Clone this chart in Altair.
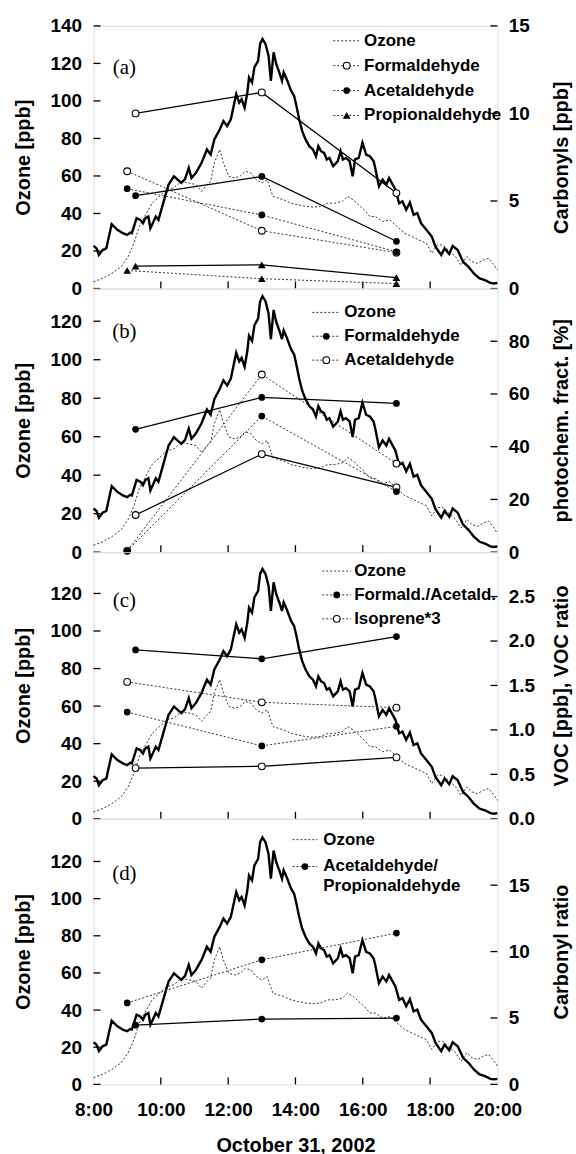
import altair as alt
import pandas as pd

# ---------------- data ----------------
# Ozone, site with the bold trace (ppb)
OZONE_BOLD_TIME = [8.00, 8.09, 8.16, 8.27, 8.38, 8.54, 8.71, 8.87, 9.00, 9.09,
                   9.14, 9.28, 9.39, 9.47, 9.54, 9.63, 9.69, 9.76, 9.85, 9.93,
                   10.07, 10.23, 10.39, 10.50, 10.61, 10.72, 10.83, 10.91, 11.04, 11.21,
                   11.37, 11.48, 11.59, 11.75, 11.86, 11.97, 12.08, 12.24, 12.33, 12.40,
                   12.49, 12.57, 12.62, 12.71, 12.78, 12.89, 12.95, 13.02, 13.11, 13.20,
                   13.27, 13.35, 13.43, 13.52, 13.60, 13.65, 13.74, 13.87, 13.96, 14.03,
                   14.11, 14.20, 14.30, 14.41, 14.52, 14.61, 14.68, 14.76, 14.85, 14.93,
                   15.01, 15.12, 15.26, 15.34, 15.41, 15.50, 15.61, 15.70, 15.77, 15.88,
                   15.99, 16.10, 16.21, 16.32, 16.37, 16.48, 16.59, 16.70, 16.78, 16.86,
                   16.97, 17.08, 17.18, 17.29, 17.40, 17.51, 17.62, 17.73, 17.89, 18.05,
                   18.16, 18.33, 18.43, 18.57, 18.67, 18.82, 18.98, 19.14, 19.30, 19.47,
                   19.63, 19.79, 19.90, 20.00]
OZONE_BOLD = [22.7, 21.4, 17.9, 20.5, 21.4, 34.3, 31.3, 29.5, 28.6, 29.8,
              29.5, 37.5, 36.6, 34.8, 37.5, 38.4, 32.1, 34.8, 38.4, 36.6,
              45.5, 55.4, 59.8, 58.0, 56.3, 58.4, 64.3, 58.9, 61.6, 67.0,
              74.1, 71.4, 79.5, 84.8, 89.3, 86.6, 90.2, 103.6, 99.1, 100.9,
              96.4, 104.5, 112.5, 109.8, 117.9, 121.4, 130.4, 133.0, 130.4, 124.1,
              110.7, 125.9, 119.6, 115.2, 110.7, 115.2, 111.6, 105.4, 102.7, 97.3,
              90.2, 83.9, 79.5, 75.9, 74.1, 70.5, 75.9, 73.2, 72.3, 68.8,
              69.6, 65.2, 67.9, 73.2, 68.8, 69.6, 67.9, 59.8, 68.8, 69.6,
              77.7, 71.4, 70.5, 67.9, 64.3, 54.5, 58.0, 55.4, 58.9, 56.3,
              52.7, 45.5, 46.4, 42.0, 45.9, 39.3, 40.2, 34.8, 31.3, 27.7,
              22.3, 17.9, 21.4, 18.4, 22.7, 20.5, 14.3, 11.6, 8.0, 5.4,
              4.5, 3.0, 2.7, 3.0]

# Ozone, site with the dotted trace (ppb)
OZONE_DOT_TIME = [8.00, 8.27, 8.54, 8.82, 9.03, 9.20, 9.36, 9.52, 9.74, 9.96,
                  10.17, 10.39, 10.61, 10.83, 11.04, 11.21, 11.37, 11.48, 11.59, 11.75,
                  11.86, 12.02, 12.19, 12.35, 12.51, 12.67, 12.84, 13.00, 13.16, 13.33,
                  13.49, 13.65, 13.87, 14.09, 14.30, 14.52, 14.74, 14.96, 15.17, 15.39,
                  15.55, 15.72, 15.88, 16.04, 16.21, 16.37, 16.59, 16.80, 17.02, 17.24,
                  17.46, 17.67, 17.89, 18.05, 18.22, 18.38, 18.54, 18.76, 18.92, 19.09,
                  19.25, 19.41, 19.58, 19.74, 19.90, 20.00]
OZONE_DOT = [3.6, 5.4, 8.0, 11.6, 17.0, 24.1, 33.0, 38.4, 45.5, 49.1,
             52.7, 53.6, 57.1, 56.3, 55.4, 51.8, 55.4, 57.1, 67.0, 74.1,
             67.0, 59.8, 58.9, 59.8, 62.5, 61.6, 58.0, 56.3, 58.0, 49.1,
             48.2, 47.3, 45.5, 44.6, 43.8, 43.4, 43.8, 45.5, 45.5, 46.4,
             49.1, 47.3, 44.6, 42.0, 38.4, 38.4, 35.7, 36.6, 33.0, 29.5,
             27.7, 25.9, 24.1, 18.8, 23.2, 23.2, 20.5, 17.0, 12.5, 17.0,
             14.3, 13.4, 15.2, 16.1, 12.5, 9.8]

# Sampling times of the carbonyl / VOC cartridges
SAMPLE_TIME_BOLD = [9.25, 13.0, 17.0]
SAMPLE_TIME_DOT = [9.0, 13.0, 17.0]

# (a) carbonyls [ppb]
A_FORM_BOLD = [10.0, 11.2, 5.45]
A_ACET_BOLD = [5.3, 6.4, 2.7]
A_PROP_BOLD = [1.28, 1.35, 0.62]
A_FORM_DOT = [6.7, 3.3, 2.05]
A_ACET_DOT = [5.7, 4.2, 2.1]
A_PROP_DOT = [1.03, 0.56, 0.28]

# (b) photochemical fraction [%]
B_FORM_BOLD = [46.6, 58.7, 56.4]
B_ACET_BOLD = [14.1, 37.2, 24.6]
B_FORM_DOT = [0.5, 51.6, 23.0]
B_ACET_DOT = [0.5, 67.4, 33.6]

# (c) formaldehyde/acetaldehyde ratio and isoprene*3 [ppb]
C_RATIO_BOLD = [1.90, 1.80, 2.05]
C_ISOP_BOLD = [0.57, 0.59, 0.69]
C_RATIO_DOT = [1.20, 0.82, 1.04]
C_ISOP_DOT = [1.54, 1.31, 1.25]

# (d) acetaldehyde/propionaldehyde ratio
D_RATIO_BOLD = [4.46, 4.92, 4.99]
D_RATIO_DOT = [6.13, 9.38, 11.39]

HOUR_TICKS = [8, 10, 12, 14, 16, 18, 20]
OZONE_TICKS_A = [0, 20, 40, 60, 80, 100, 120, 140]
OZONE_TICKS = [0, 20, 40, 60, 80, 100, 120]

# ---------------- layout / style ----------------
W = 406
FONT = "Liberation Sans"
SERIF = "Liberation Serif"
TICK_LEN = 7
MARK_SIZE = 46

ozone_df = pd.concat([
    pd.DataFrame({"t": OZONE_BOLD_TIME, "ppb": OZONE_BOLD, "site": "bold"}),
    pd.DataFrame({"t": OZONE_DOT_TIME, "ppb": OZONE_DOT, "site": "dot"}),
])


def series(values, name, site, marker):
    times = SAMPLE_TIME_BOLD if site == "bold" else SAMPLE_TIME_DOT
    return pd.DataFrame({"t": times, "v": values, "name": name,
                         "site": site, "marker": marker})


def x_enc(show):
    if show:
        axis = alt.Axis(values=HOUR_TICKS, labelExpr="datum.value + ':00'",
                        title="October 31, 2002", ticks=False, tickSize=0,
                        domain=False, grid=False, labelPadding=16,
                        labelFlush=False, labelOverlap=False,
                        labelFontSize=19, labelFont=FONT, labelFontWeight="bold",
                        titleFontSize=20, titleFont=FONT, titleFontWeight="bold",
                        titleY=61, titleBaseline="middle")
    else:
        axis = None
    return alt.X("t:Q", scale=alt.Scale(domain=[8, 20], nice=False, zero=False),
                 axis=axis)


def panel(h, lmax, lticks, rmax, rticks, rfmt, rtitle, frames, legend, legend_x,
          label, label_y, show_x):
    X = x_enc(show_x)
    YL = alt.Y("ppb:Q", scale=alt.Scale(domain=[0, lmax], nice=False),
               axis=alt.Axis(values=lticks, title="Ozone [ppb]", ticks=False,
                             tickSize=0, domain=False, grid=False,
                             labelPadding=12, labelOverlap=False,
                             labelFontSize=19, labelFont=FONT,
                             labelFontWeight="bold",
                             titleFontSize=20, titleFont=FONT,
                             titleFontWeight="bold", titleAngle=270,
                             titleX=-70, titleY=h / 2, titleAlign="center",
                             titleBaseline="middle"))
    YR = alt.Y("v:Q", scale=alt.Scale(domain=[0, rmax], nice=False),
               axis=alt.Axis(values=rticks, format=rfmt, title=rtitle,
                             orient="right", ticks=False, tickSize=0,
                             domain=False, grid=False, labelPadding=11,
                             labelOverlap=False, labelFontSize=19,
                             labelFont=FONT, labelFontWeight="bold",
                             titleFontSize=20, titleFont=FONT,
                             titleFontWeight="bold", titleAngle=270,
                             titleX=64, titleY=h / 2, titleAlign="center",
                             titleBaseline="middle"))

    # left scale: ozone traces and inward ticks
    oz = alt.Chart(ozone_df)
    oz_bold = oz.transform_filter("datum.site == 'bold'").mark_line(
        color="black", strokeWidth=2.4, interpolate="linear").encode(x=X, y=YL)
    oz_dot = oz.transform_filter("datum.site == 'dot'").mark_line(
        color="#333333", strokeWidth=1, strokeDash=[2, 2]).encode(x=X, y=YL)
    lt = alt.Chart(pd.DataFrame({"ppb": lticks})).mark_rule(
        color="black", strokeWidth=1.3).encode(
        y=YL, x=alt.value(0), x2=alt.value(TICK_LEN))
    bt = alt.Chart(pd.DataFrame({"t": HOUR_TICKS[1:-1]})).mark_rule(
        color="black", strokeWidth=1.3).encode(
        x=X, y=alt.value(h), y2=alt.value(h - TICK_LEN))
    left = alt.layer(oz_dot, oz_bold, lt, bt)

    # right scale: carbonyl / VOC series
    df = pd.concat(frames)
    base = alt.Chart(df)
    dot_lines = base.transform_filter("datum.site == 'dot'").mark_line(
        color="#333333", strokeWidth=1, strokeDash=[2, 2]).encode(
        x=X, y=YR, detail="name:N")
    bold_lines = base.transform_filter("datum.site == 'bold'").mark_line(
        color="black", strokeWidth=1.3).encode(x=X, y=YR, detail="name:N")
    open_pts = base.transform_filter("datum.marker == 'open'").mark_point(
        shape="circle", filled=True, fill="white", stroke="black",
        strokeWidth=1.1, size=MARK_SIZE, opacity=1).encode(x=X, y=YR)
    full_pts = base.transform_filter("datum.marker == 'filled'").mark_point(
        shape="circle", filled=True, color="black", size=MARK_SIZE,
        opacity=1).encode(x=X, y=YR)
    tri_pts = base.transform_filter("datum.marker == 'tri'").mark_point(
        shape="triangle-up", filled=True, color="black", size=MARK_SIZE + 14,
        opacity=1).encode(x=X, y=YR)
    rt = alt.Chart(pd.DataFrame({"v": rticks})).mark_rule(
        color="black", strokeWidth=1.3).encode(
        y=YR, x=alt.value(W - TICK_LEN), x2=alt.value(W))

    layers = [dot_lines, bold_lines, open_pts, full_pts, tri_pts, rt]

    # legend
    x0, x1, xt = legend_x
    for text, marker, yy in legend:
        one = alt.Chart(pd.DataFrame({"name": [text]}))
        if marker != "none":
            layers.append(one.mark_rule(color="#333333", strokeWidth=1,
                                        strokeDash=[2, 2]).encode(
                x=alt.value(x0), x2=alt.value(x1), y=alt.value(yy)))
        if marker == "open":
            layers.append(one.mark_point(shape="circle", filled=True,
                                         fill="white", stroke="black",
                                         strokeWidth=1.1, size=MARK_SIZE,
                                         opacity=1).encode(
                x=alt.value((x0 + x1) / 2), y=alt.value(yy)))
        elif marker == "filled":
            layers.append(one.mark_point(shape="circle", filled=True,
                                         color="black", size=MARK_SIZE,
                                         opacity=1).encode(
                x=alt.value((x0 + x1) / 2), y=alt.value(yy)))
        elif marker == "tri":
            layers.append(one.mark_point(shape="triangle-up", filled=True,
                                         color="black", size=MARK_SIZE + 14,
                                         opacity=1).encode(
                x=alt.value((x0 + x1) / 2), y=alt.value(yy)))
        layers.append(one.mark_text(align="left", baseline="middle",
                                    font=FONT, fontWeight="bold", fontSize=17,
                                    color="black").encode(
            x=alt.value(xt), y=alt.value(yy), text="name:N"))

    layers.append(alt.Chart(pd.DataFrame({"name": [label]})).mark_text(
        align="center", baseline="middle", font=SERIF, fontSize=21,
        color="black").encode(x=alt.value(31), y=alt.value(label_y),
                              text="name:N"))

    right = alt.layer(*layers)
    return alt.layer(left, right).resolve_scale(y="independent").properties(
        width=W, height=h)


pa = panel(264, 140, OZONE_TICKS_A, 15, [0, 5, 10, 15], "d", "Carbonyls [ppb]",
           [series(A_FORM_DOT, "form", "dot", "open"),
            series(A_ACET_DOT, "acet", "dot", "filled"),
            series(A_PROP_DOT, "prop", "dot", "tri"),
            series(A_FORM_BOLD, "form", "bold", "open"),
            series(A_ACET_BOLD, "acet", "bold", "filled"),
            series(A_PROP_BOLD, "prop", "bold", "tri")],
           [("Ozone", "line", 15), ("Formaldehyde", "open", 40),
            ("Acetaldehyde", "filled", 65), ("Propionaldehyde", "tri", 90)],
           (241, 268, 272), "(a)", 42, False)

pb = panel(265, 137, OZONE_TICKS, 100, [0, 20, 40, 60, 80], "d",
           "photochem.  fract. [%]",
           [series(B_ACET_DOT, "acet", "dot", "open"),
            series(B_FORM_DOT, "form", "dot", "filled"),
            series(B_FORM_BOLD, "form", "bold", "filled"),
            series(B_ACET_BOLD, "acet", "bold", "open")],
           [("Ozone", "line", 24), ("Formaldehyde", "filled", 48),
            ("Acetaldehyde", "open", 72)],
           (220, 248, 252), "(b)", 44, False)

pc = panel(268, 142, OZONE_TICKS, 3.0, [0, 0.5, 1.0, 1.5, 2.0, 2.5], ".1f",
           "VOC [ppb], VOC ratio",
           [series(C_RATIO_DOT, "ratio", "dot", "filled"),
            series(C_ISOP_DOT, "isop", "dot", "open"),
            series(C_RATIO_BOLD, "ratio", "bold", "filled"),
            series(C_ISOP_BOLD, "isop", "bold", "open")],
           [("Ozone", "line", 19), ("Formald./Acetald.", "filled", 43),
            ("Isoprene*3", "open", 67)],
           (230, 259, 262), "(c)", 49, False)

pd_ = panel(267, 143, OZONE_TICKS, 20, [0, 5, 10, 15], "d", "Carbonyl ratio",
            [series(D_RATIO_DOT, "ratio", "dot", "filled"),
             series(D_RATIO_BOLD, "ratio", "bold", "filled")],
            [("Ozone", "line", 21), ("Acetaldehyde/", "filled", 48),
             ("Propionaldehyde", "none", 68)],
            (200, 225, 231), "(d)", 56, True)

chart = alt.vconcat(pa, pb, pc, pd_, spacing=0, bounds="flush").properties(
    padding={"left": 13, "top": 13, "right": 4, "bottom": 4}
).configure_view(stroke="black", strokeWidth=1.5).configure(
    background="white")

chart.save("out.html", embed_options={"renderer": "svg", "actions": False})
